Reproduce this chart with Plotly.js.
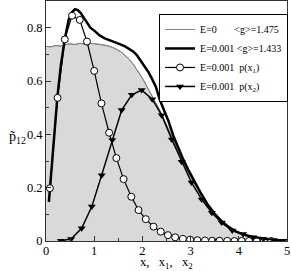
<!DOCTYPE html>
<html>
<head>
<meta charset="utf-8">
<script src="https://cdn.plot.ly/plotly-3.0.1.min.js"></script>
<style>html,body{margin:0;padding:0;background:#fff;}#chart{width:291px;height:271px;}</style>
</head>
<body>
<div id="chart"></div>
<script>
// E=0 total distribution (gray filled)
const e0X = [0, 0.1, 0.2, 0.3, 0.4, 0.5, 0.6, 0.7, 0.8, 0.9, 1.0, 1.1, 1.2, 1.3, 1.43, 1.55, 1.64, 1.72, 1.8, 1.88, 1.95, 2.02, 2.12, 2.2, 2.28, 2.36, 2.45, 2.55, 2.65, 2.75, 2.85, 2.95, 3.06, 3.2, 3.35, 3.5, 3.65, 3.8, 3.95, 4.1, 4.3, 4.5, 4.7, 5.0];
const e0Y = [0.73, 0.728, 0.733, 0.731, 0.736, 0.739, 0.737, 0.741, 0.739, 0.742, 0.74, 0.738, 0.735, 0.731, 0.722, 0.71, 0.697, 0.683, 0.665, 0.645, 0.625, 0.604, 0.572, 0.545, 0.515, 0.49, 0.455, 0.415, 0.372, 0.333, 0.295, 0.258, 0.222, 0.178, 0.135, 0.1, 0.072, 0.05, 0.035, 0.024, 0.014, 0.008, 0.004, 0.001];

// E=0.001 total distribution (thick black)
const e1X = [0.06, 0.083, 0.16, 0.236, 0.31, 0.39, 0.47, 0.54, 0.6, 0.66, 0.72, 0.79, 0.85, 0.92, 1.0, 1.12, 1.22, 1.32, 1.43, 1.53, 1.64, 1.72, 1.8, 1.88, 1.95, 2.03, 2.12, 2.2, 2.28, 2.36, 2.45, 2.54, 2.64, 2.75, 2.85, 2.95, 3.06, 3.2, 3.35, 3.5, 3.65, 3.8, 3.95, 4.1, 4.3, 4.5, 4.7, 4.92];
const e1Y = [0.147, 0.2, 0.375, 0.54, 0.66, 0.758, 0.83, 0.858, 0.869, 0.866, 0.855, 0.835, 0.816, 0.8, 0.789, 0.77, 0.76, 0.752, 0.745, 0.738, 0.73, 0.722, 0.712, 0.698, 0.68, 0.66, 0.635, 0.608, 0.578, 0.53, 0.49, 0.45, 0.395, 0.345, 0.305, 0.268, 0.23, 0.183, 0.138, 0.102, 0.073, 0.051, 0.035, 0.024, 0.015, 0.009, 0.005, 0.002];

// E=0.001 p(x1) (open circles)
const p1X = [0.08, 0.24, 0.39, 0.54, 0.70, 0.85, 1.00, 1.15, 1.31, 1.46, 1.61, 1.77, 1.92, 2.07, 2.23, 2.38, 2.53, 2.68, 2.84, 2.99, 3.14, 3.30, 3.45, 3.60, 3.76, 3.91, 4.06, 4.21, 4.37, 4.52, 4.67];
const p1Y = [0.198, 0.537, 0.756, 0.845, 0.829, 0.748, 0.638, 0.516, 0.406, 0.311, 0.232, 0.166, 0.116, 0.082, 0.054, 0.035, 0.022, 0.014, 0.008, 0.005, 0.003, 0.002, 0.001, 0.001, 0.0005, 0, 0, 0, 0, 0, 0];

// E=0.001 p(x2) (filled down-triangles)
const p2X = [0.31, 0.52, 0.74, 0.95, 1.155, 1.376, 1.57, 1.78, 1.985, 2.205, 2.40, 2.61, 2.815, 3.02, 3.23, 3.44, 3.645, 3.865, 4.09, 4.30, 4.51, 4.72, 4.92];
const p2Y = [0.001, 0.0075, 0.048, 0.129, 0.247, 0.379, 0.491, 0.548, 0.566, 0.532, 0.472, 0.381, 0.297, 0.219, 0.156, 0.106, 0.069, 0.039, 0.026, 0.014, 0.0075, 0.004, 0.001];

const legendNames = [
  'E=0&nbsp;&nbsp;&nbsp;&nbsp;&nbsp;&nbsp;&nbsp;&lt;g&gt;=1.475',
  'E=0.001 &lt;g&gt;=1.433',
  'E=0.001&nbsp;&nbsp;p(x<sub>1</sub>)',
  'E=0.001&nbsp;&nbsp;p(x<sub>2</sub>)'
];
const xTitle = 'x,&nbsp;&nbsp;&nbsp;x<sub>1</sub>,&nbsp;&nbsp;&nbsp;x<sub>2</sub>';
const yTitle = 'p\u0303<sub>12</sub>';

const serif = 'Liberation Serif, Times New Roman, serif';

const traces = [
  {x: e0X, y: e0Y, type: 'scatter', mode: 'lines', showlegend: false, hoverinfo: 'skip',
   fill: 'tozeroy', fillcolor: '#d9d9d9', line: {color: '#808080', width: 1}},
  {x: e0X, y: e0Y, name: legendNames[0], type: 'scatter', mode: 'lines',
   line: {color: '#808080', width: 1}},
  {x: e1X, y: e1Y, name: legendNames[1], type: 'scatter', mode: 'lines',
   line: {color: '#000', width: 2.5}},
  {x: p1X, y: p1Y, name: legendNames[2], type: 'scatter', mode: 'lines+markers',
   line: {color: '#000', width: 1.2},
   marker: {symbol: 'circle', size: 7, color: '#fff', line: {color: '#000', width: 1}}},
  {x: p2X, y: p2Y, name: legendNames[3], type: 'scatter', mode: 'lines+markers',
   line: {color: '#000', width: 1.5},
   marker: {symbol: 'triangle-down', size: 7, color: '#000', line: {width: 0}}}
];

const axisCommon = {
  showgrid: false, zeroline: false, showline: true, mirror: true,
  linecolor: '#333', linewidth: 1,
  ticks: 'inside', ticklen: 5, tickwidth: 1, tickcolor: '#333',
  tickfont: {family: serif, size: 12.5, color: '#000'}
};

const layout = {
  width: 291, height: 271,
  margin: {l: 46, r: 4, t: 1, b: 30},
  paper_bgcolor: '#fff', plot_bgcolor: '#fff',
  font: {family: serif, color: '#000'},
  xaxis: Object.assign({}, axisCommon, {
    range: [0, 5], dtick: 1, tick0: 0, ticklabelstandoff: -2,
    minor: {dtick: 0.5, ticks: 'inside', ticklen: 3, tickcolor: '#333'}
  }),
  yaxis: Object.assign({}, axisCommon, {
    range: [0, 0.9], dtick: 0.2, tick0: 0,
    minor: {dtick: 0.1, ticks: 'inside', ticklen: 3, tickcolor: '#333'}
  }),
  showlegend: true,
  legend: {
    x: 0.469, y: 0.946, xanchor: 'left', yanchor: 'top',
    bgcolor: '#fff', bordercolor: '#000', borderwidth: 1,
    font: {family: serif, size: 10, color: '#000'},
    tracegroupgap: 0
  },
  annotations: [
    {text: yTitle, xref: 'paper', yref: 'paper', x: -0.16, y: 0.43,
     showarrow: false, font: {family: serif, size: 14, color: '#000'}},
    {text: xTitle, xref: 'paper', yref: 'paper', x: 0.5, y: -0.091,
     xanchor: 'center', yanchor: 'middle',
     showarrow: false, font: {family: serif, size: 12.5, color: '#000'}}
  ]
};

Plotly.newPlot('chart', traces, layout, {displayModeBar: false, staticPlot: true});
</script>
</body>
</html>
